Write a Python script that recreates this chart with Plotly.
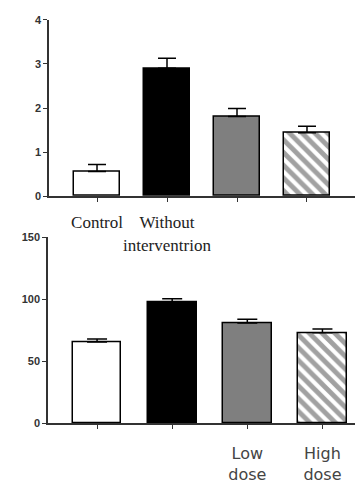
import plotly.graph_objects as go

groups = ["Control", "Without interventrion", "Low dose", "High dose"]
top_vals = [0.56, 2.90, 1.81, 1.44]
top_err = [0.16, 0.23, 0.18, 0.15]
top_ticktext = ["Control", "Without<br>interventrion", "", ""]
bot_vals = [65.5, 97.5, 81.0, 73.0]
bot_err = [2.5, 3.0, 3.0, 3.0]
bot_ticktext = ["", "", "Low<br>dose", "High<br>dose"]

fills = ["white", "black", "#7f7f7f", "white"]
patterns = ["", "", "", "\\"]

# page has 8px body margin; figure placed at (8,8)
OFF = 8
W, H = 355, 476
def px(p):
    return (p - OFF) / W
def py(p):
    return 1 - (p - OFF) / H

fig = go.Figure()
idx = list(range(len(groups)))

for xa, ya, vals, errs, bw, cap in [("x", "y", top_vals, top_err, 0.67, 9),
                                     ("x2", "y2", bot_vals, bot_err, 0.65, 10)]:
    fig.add_trace(go.Bar(
        x=idx, y=vals, xaxis=xa, yaxis=ya, width=bw,
        marker=dict(color=fills, line=dict(color="black", width=1.5),
                    pattern=dict(shape=patterns, fgcolor="black", bgcolor="white",
                                 size=9, solidity=0.55)),
        error_y=dict(type="data", array=errs, arrayminus=[0]*len(errs),
                     color="black", thickness=1.5, width=cap),
        showlegend=False, hoverinfo="skip"))

axis_line = dict(showline=True, linecolor="#333", linewidth=1.5, showgrid=False,
                 zeroline=False, ticks="outside", tickcolor="#333", ticklen=4, tickwidth=1.2)

fig.update_layout(
    width=W, height=H, margin=dict(l=0, r=0, t=0, b=0),
    paper_bgcolor="white", plot_bgcolor="white", bargap=0,
    xaxis=dict(domain=[px(49), px(355)], range=[-0.686, 3.686], anchor="y",
               tickvals=idx, ticktext=top_ticktext, ticklabelstandoff=6, tickangle=0,
               tickfont=dict(family="Liberation Serif", size=17, color="#222"), **axis_line),
    yaxis=dict(domain=[py(195), py(14)], range=[0, 4], anchor="x",
               tickvals=[0, 1, 2, 3, 4], tickfont=dict(family="Liberation Sans", size=11, color="#333",
                                                    weight="bold"), **axis_line),
    xaxis2=dict(domain=[px(48), px(360)], range=[-0.653, 3.5], anchor="y2",
                tickvals=idx, ticktext=bot_ticktext, ticklabelstandoff=11, tickangle=0,
                tickfont=dict(family="DejaVu Sans", size=16, color="#444"), **axis_line),
    yaxis2=dict(domain=[py(428), py(237)], range=[0, 150], anchor="x2",
                tickvals=[0, 50, 100, 150], tickfont=dict(family="Liberation Sans", size=11, color="#333",
                                                         weight="bold"), **axis_line),
)

fig.write_html("out.html")
